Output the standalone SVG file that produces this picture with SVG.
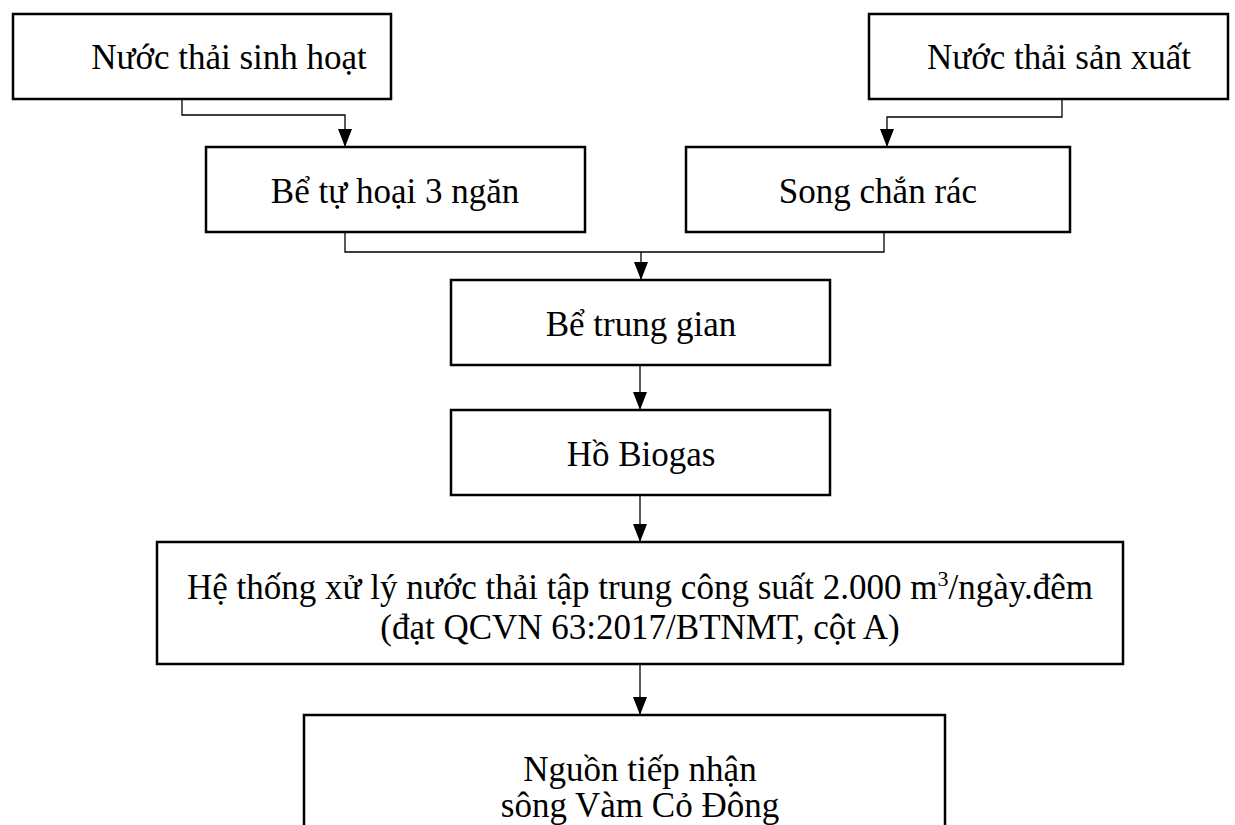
<svg xmlns="http://www.w3.org/2000/svg" width="1235" height="825" viewBox="0 0 1235 825">
<style>
.box{fill:#fff;stroke:#000;stroke-width:2.5}
.lbl{font-family:"Liberation Serif","Times New Roman",serif;font-size:35px;fill:#000;text-anchor:middle}
.con{fill:none;stroke:#000;stroke-width:1.3}
</style>
<defs>
<marker id="arr" markerUnits="userSpaceOnUse" markerWidth="19" markerHeight="15" refX="18" refY="7" orient="auto">
<path d="M0,0 L18,7 L0,14 z" fill="#000"/>
</marker>
</defs>
<rect width="1235" height="825" fill="#fff"/>
<g id="connectors">
<path class="con" d="M182 99 V115 H345 V147" marker-end="url(#arr)"/>
<path class="con" d="M1062 99 V117 H887 V147" marker-end="url(#arr)"/>
<path class="con" d="M345 232 V252 H884 V232"/>
<path class="con" d="M641 252 V280" marker-end="url(#arr)"/>
<path class="con" d="M640 365 V410" marker-end="url(#arr)"/>
<path class="con" d="M640 495 V542" marker-end="url(#arr)"/>
<path class="con" d="M640 664 V715" marker-end="url(#arr)"/>
</g>
<g id="n1"><rect class="box" x="13" y="14" width="378" height="85"/><text class="lbl" x="229" y="69">Nước thải sinh hoạt</text></g>
<g id="n2"><rect class="box" x="869" y="14" width="359" height="85"/><text class="lbl" x="1059" y="69">Nước thải sản xuất</text></g>
<g id="n3"><rect class="box" x="206" y="147" width="379" height="85"/><text class="lbl" x="395" y="203">Bể tự hoại 3 ngăn</text></g>
<g id="n4"><rect class="box" x="686" y="147" width="384" height="85"/><text class="lbl" x="878" y="203">Song chắn rác</text></g>
<g id="n5"><rect class="box" x="451" y="280" width="379" height="85"/><text class="lbl" x="641" y="336">Bể trung gian</text></g>
<g id="n6"><rect class="box" x="451" y="410" width="379" height="85"/><text class="lbl" x="641" y="466">Hồ Biogas</text></g>
<g id="n7"><rect class="box" x="157" y="542" width="966" height="122"/>
<text class="lbl" x="640" y="599">Hệ thống xử lý nước thải tập trung công suất 2.000 m<tspan dy="-13" font-size="22">3</tspan><tspan dy="13">/ngày.đêm</tspan></text>
<text class="lbl" x="640" y="639">(đạt QCVN 63:2017/BTNMT, cột A)</text></g>
<g id="n8"><rect class="box" x="304" y="715" width="641" height="130"/>
<text class="lbl" x="640" y="781">Nguồn tiếp nhận</text>
<text class="lbl" x="640" y="817">sông Vàm Cỏ Đông</text></g>
</svg>
